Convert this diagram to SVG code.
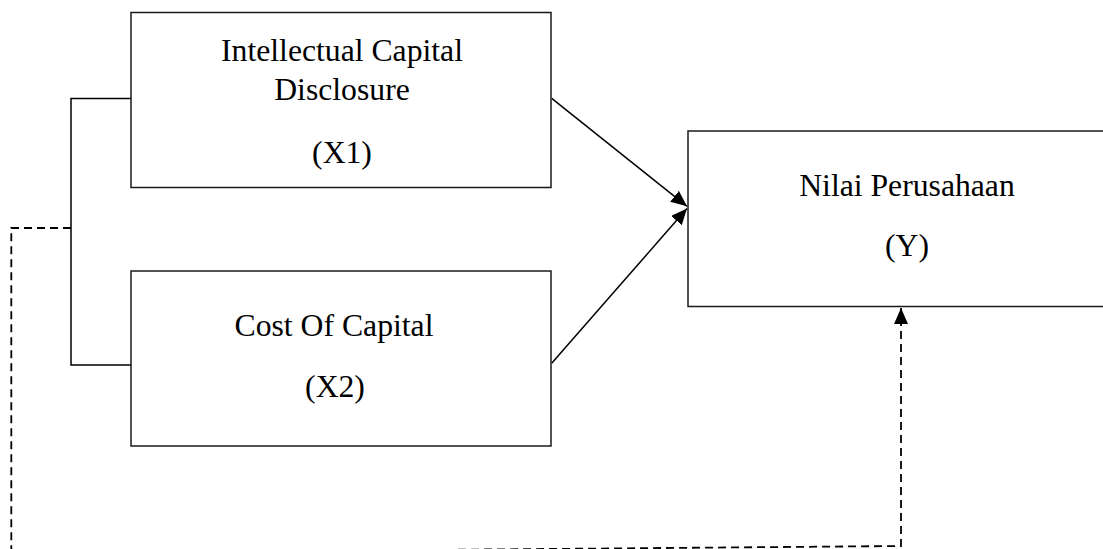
<svg xmlns="http://www.w3.org/2000/svg" width="1103" height="549" viewBox="0 0 1103 549">
  <style>
    .box { fill: #ffffff; stroke: #1a1a1a; stroke-width: 1.5; }
    .lbl { font-family: "Liberation Serif", "Times New Roman", serif; font-size: 31.7px; fill: #000000; text-anchor: middle; }
    .solid { fill: none; stroke: #000000; stroke-width: 1.5; }
    .dash { fill: none; stroke: #000000; stroke-width: 1.8; stroke-dasharray: 8 5; }
  </style>
  <defs>
    <marker id="arrow" markerUnits="userSpaceOnUse" markerWidth="17" markerHeight="15" refX="16" refY="7" orient="auto">
      <path d="M0,0 L16,7 L0,14 z" fill="#000000"/>
    </marker>
  </defs>
  <rect width="1103" height="549" fill="#ffffff"/>

  <g id="connectors">
    <path class="solid" d="M131,98.5 H71 V365 H131"/>
    <line class="solid" x1="551.7" y1="98.3" x2="687" y2="206.3" marker-end="url(#arrow)"/>
    <line class="solid" x1="551.7" y1="363.3" x2="687" y2="208.5" marker-end="url(#arrow)"/>
    <path class="dash" d="M71,228 H11.3 V553.5 L901,546 V323" />
    <line x1="901" y1="323" x2="901" y2="308" stroke="#000" stroke-width="1.8" marker-end="url(#arrow)"/>
  </g>

  <g id="node-x1">
    <rect class="box" x="131" y="12.5" width="420" height="175"/>
    <text class="lbl" x="342" y="61">Intellectual Capital</text>
    <text class="lbl" x="342" y="100">Disclosure</text>
    <text class="lbl" x="342" y="163">(X1)</text>
  </g>

  <g id="node-x2">
    <rect class="box" x="131" y="271" width="420" height="175"/>
    <text class="lbl" x="334" y="336">Cost Of Capital</text>
    <text class="lbl" x="335" y="397">(X2)</text>
  </g>

  <g id="node-y">
    <rect class="box" x="688" y="131" width="450" height="175.5"/>
    <text class="lbl" x="907" y="196">Nilai Perusahaan</text>
    <text class="lbl" x="907" y="256">(Y)</text>
  </g>
</svg>
